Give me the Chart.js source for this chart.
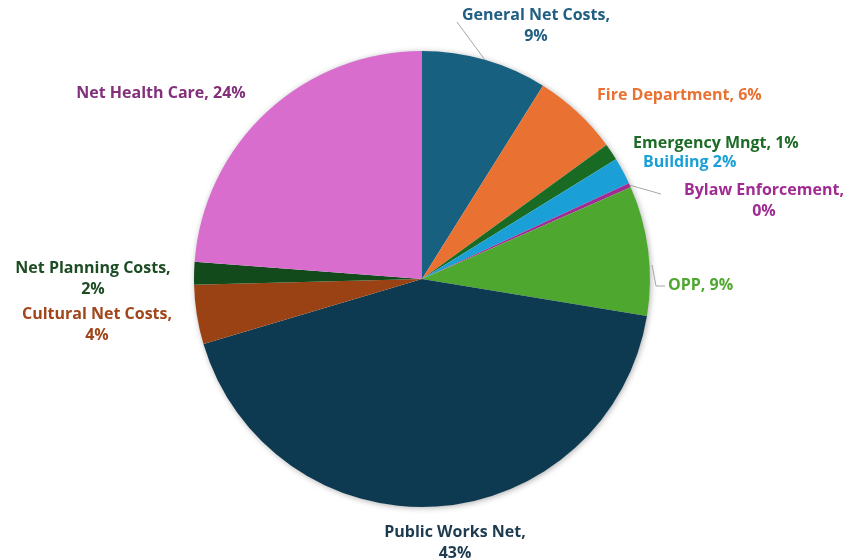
<!DOCTYPE html>
<html>
<head>
<meta charset="utf-8">
<script src="https://cdn.jsdelivr.net/npm/chart.js@4"></script>
<style>
html,body{margin:0;padding:0;background:#fff;}
#wrap{width:860px;height:560px;position:relative;}
</style>
</head>
<body>
<div id="wrap"><canvas id="c" width="860" height="560"></canvas></div>
<script>
// ---- data ----
const categories = ["General Net Costs", "Fire Department", "Emergency Mngt", "Building", "Bylaw Enforcement", "OPP", "Public Works Net", "Cultural Net Costs", "Net Planning Costs", "Net Health Care"];
const shares = [8.9, 6.1, 1.2, 1.9, 0.3, 9.2, 42.8, 4.2, 1.6, 23.8];
const sliceColors = ["#17607f", "#e97132", "#196b24", "#1aa0d6", "#a02b93", "#4ea72e", "#0e3a51", "#9b4215", "#124a1b", "#d86dcd"];
const labelColors = ["#215f82", "#e97132", "#1d6b27", "#1aa0d6", "#a02b93", "#4ea72e", "#1d3b4f", "#a0461a", "#1d4c24", "#83307b"];

// ---- label layout (style only) ----
const labelLayout = [
  {lines: 2, x: 536, y: 15, align: "center", leader: [[457, 22]]},
  {lines: 1, x: 597, y: 95, align: "left"},
  {lines: 1, x: 633, y: 143, align: "left"},
  {lines: 1, x: 643, y: 162, align: "left", noComma: true},
  {lines: 2, x: 764, y: 190, align: "center", leader: [[661, 194]]},
  {lines: 1, x: 668, y: 285, align: "left", leader: [[656, 286], [665, 286]], leaderStart: [652, 265]},
  {lines: 2, x: 455, y: 532, align: "center"},
  {lines: 2, x: 97, y: 314, align: "center"},
  {lines: 2, x: 93, y: 268, align: "center"},
  {lines: 1, x: 161, y: 93, align: "center"}
];
const lineGap = 21;
const FONT = "bold 16px 'Open Sans', 'Liberation Sans', sans-serif";

const total = shares.reduce((a, b) => a + b, 0);

const shadowPlugin = {
  id: "pieShadow",
  beforeDatasetsDraw(chart) {
    const el = chart.getDatasetMeta(0).data[0];
    if (!el) return;
    const ctx = chart.ctx;
    ctx.save();
    ctx.shadowColor = "rgba(0,0,0,0.35)";
    ctx.shadowBlur = 6;
    ctx.shadowOffsetX = 1;
    ctx.shadowOffsetY = 1;
    ctx.fillStyle = "#ffffff";
    ctx.beginPath();
    ctx.arc(el.x, el.y, el.outerRadius - 0.5, 0, Math.PI * 2);
    ctx.fill();
    ctx.restore();
  }
};

const labelPlugin = {
  id: "pieLabels",
  afterDatasetsDraw(chart) {
    const ctx = chart.ctx;
    const meta = chart.getDatasetMeta(0);
    ctx.save();
    ctx.font = FONT;
    ctx.textBaseline = "middle";
    meta.data.forEach((arc, i) => {
      const L = labelLayout[i];
      const pct = Math.round(shares[i] / total * 100) + "%";
      const name = categories[i];
      if (L.leader) {
        const mid = (arc.startAngle + arc.endAngle) / 2;
        let sx = arc.x + Math.cos(mid) * arc.outerRadius;
        let sy = arc.y + Math.sin(mid) * arc.outerRadius;
        if (L.leaderStart) { sx = L.leaderStart[0]; sy = L.leaderStart[1]; }
        ctx.strokeStyle = "#a6a6a6";
        ctx.lineWidth = 1;
        ctx.beginPath();
        ctx.moveTo(sx, sy);
        L.leader.forEach(p => ctx.lineTo(p[0], p[1]));
        ctx.stroke();
      }
      ctx.fillStyle = labelColors[i];
      ctx.textAlign = L.align;
      if (L.lines === 2) {
        ctx.fillText(name + ",", L.x, L.y);
        ctx.fillText(pct, L.x, L.y + lineGap);
      } else {
        ctx.fillText(name + (L.noComma ? " " : ", ") + pct, L.x, L.y);
      }
    });
    ctx.restore();
  }
};

new Chart(document.getElementById("c"), {
  type: "pie",
  data: {
    labels: categories,
    datasets: [{
      data: shares,
      backgroundColor: sliceColors,
      borderWidth: 0,
      hoverOffset: 0
    }]
  },
  options: {
    responsive: false,
    animation: false,
    layout: {padding: {top: 51, bottom: 53, left: 0, right: 16}},
    plugins: {
      legend: {display: false},
      tooltip: {enabled: false}
    }
  },
  plugins: [shadowPlugin, labelPlugin]
});
</script>
</body>
</html>
